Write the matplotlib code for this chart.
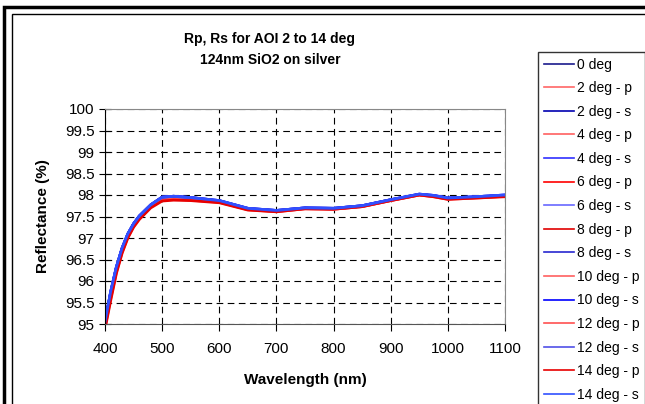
import matplotlib.pyplot as plt
from matplotlib.patches import Rectangle

plt.rcParams["font.family"] = ["Liberation Sans", "DejaVu Sans"]

# wavelength (nm) and reflectance (%)
wl = [400, 410, 420, 430, 440, 450, 460, 480, 500, 520, 550, 600, 650,
      700, 750, 800, 850, 900, 950, 975, 1000, 1050, 1100]

r_0 = [95.02, 95.72, 96.30, 96.75, 97.08, 97.32, 97.50, 97.76, 97.94, 97.96, 97.93, 97.86,
       97.68, 97.63, 97.69, 97.68, 97.74, 97.88, 98.01, 97.98, 97.92, 97.95, 97.99]
r_2p = [95.01, 95.71, 96.30, 96.75, 97.08, 97.32, 97.50, 97.76, 97.94, 97.96, 97.93, 97.86,
        97.68, 97.63, 97.69, 97.68, 97.74, 97.88, 98.01, 97.98, 97.92, 97.95, 97.99]
r_2s = [95.02, 95.72, 96.30, 96.75, 97.08, 97.32, 97.50, 97.76, 97.94, 97.96, 97.93, 97.86,
        97.68, 97.63, 97.69, 97.68, 97.74, 97.88, 98.01, 97.98, 97.92, 97.95, 97.99]
r_4p = [95.00, 95.70, 96.29, 96.74, 97.07, 97.31, 97.49, 97.75, 97.93, 97.95, 97.92, 97.86,
        97.68, 97.63, 97.69, 97.68, 97.74, 97.88, 98.01, 97.98, 97.92, 97.95, 97.99]
r_4s = [95.02, 95.73, 96.31, 96.75, 97.08, 97.32, 97.50, 97.76, 97.94, 97.96, 97.93, 97.86,
        97.68, 97.63, 97.69, 97.68, 97.74, 97.88, 98.01, 97.98, 97.92, 97.95, 97.99]
r_6p = [94.99, 95.69, 96.28, 96.73, 97.07, 97.31, 97.49, 97.75, 97.93, 97.95, 97.92, 97.85,
        97.67, 97.63, 97.69, 97.68, 97.74, 97.88, 98.01, 97.98, 97.92, 97.95, 97.98]
r_6s = [95.03, 95.73, 96.31, 96.76, 97.09, 97.32, 97.50, 97.76, 97.94, 97.96, 97.93, 97.86,
        97.68, 97.63, 97.69, 97.68, 97.74, 97.88, 98.01, 97.98, 97.92, 97.95, 97.99]
r_8p = [94.97, 95.66, 96.26, 96.72, 97.05, 97.30, 97.48, 97.74, 97.91, 97.93, 97.91, 97.85,
        97.67, 97.62, 97.69, 97.68, 97.74, 97.88, 98.01, 97.97, 97.91, 97.94, 97.98]
r_8s = [95.03, 95.74, 96.32, 96.76, 97.09, 97.33, 97.51, 97.77, 97.95, 97.97, 97.94, 97.86,
        97.68, 97.64, 97.70, 97.69, 97.75, 97.89, 98.01, 97.98, 97.92, 97.95, 97.99]
r_10p = [94.95, 95.63, 96.24, 96.70, 97.04, 97.28, 97.46, 97.73, 97.90, 97.92, 97.90, 97.84,
         97.66, 97.62, 97.68, 97.67, 97.73, 97.87, 98.00, 97.97, 97.91, 97.94, 97.97]
r_10s = [95.04, 95.74, 96.32, 96.76, 97.09, 97.33, 97.51, 97.77, 97.95, 97.97, 97.94, 97.87,
         97.69, 97.64, 97.70, 97.69, 97.75, 97.89, 98.02, 97.99, 97.93, 97.96, 98.00]
r_12p = [94.92, 95.59, 96.21, 96.67, 97.02, 97.27, 97.45, 97.72, 97.88, 97.90, 97.88, 97.83,
         97.66, 97.61, 97.68, 97.67, 97.73, 97.87, 98.00, 97.96, 97.90, 97.93, 97.97]
r_12s = [95.04, 95.75, 96.33, 96.77, 97.10, 97.33, 97.51, 97.77, 97.95, 97.97, 97.94, 97.87,
         97.69, 97.64, 97.70, 97.69, 97.75, 97.89, 98.02, 97.99, 97.93, 97.96, 98.00]
r_14p = [94.88, 95.55, 96.18, 96.65, 97.00, 97.25, 97.43, 97.70, 97.86, 97.88, 97.87, 97.82,
         97.65, 97.61, 97.68, 97.67, 97.73, 97.87, 98.00, 97.96, 97.90, 97.93, 97.96]
r_14s = [95.05, 95.76, 96.33, 96.77, 97.10, 97.33, 97.51, 97.77, 97.95, 97.97, 97.94, 97.87,
         97.69, 97.64, 97.70, 97.69, 97.75, 97.89, 98.02, 97.99, 97.93, 97.96, 98.00]

series = [
    ("0 deg", r_0, "#1a1a8c"),
    ("2 deg - p", r_2p, "#ff6666"),
    ("2 deg - s", r_2s, "#0000b0"),
    ("4 deg - p", r_4p, "#ff6060"),
    ("4 deg - s", r_4s, "#3030ff"),
    ("6 deg - p", r_6p, "#ff0000"),
    ("6 deg - s", r_6s, "#6868ff"),
    ("8 deg - p", r_8p, "#e00000"),
    ("8 deg - s", r_8s, "#2828d0"),
    ("10 deg - p", r_10p, "#ff6060"),
    ("10 deg - s", r_10s, "#0000ff"),
    ("12 deg - p", r_12p, "#ff5050"),
    ("12 deg - s", r_12s, "#5050e8"),
    ("14 deg - p", r_14p, "#e80000"),
    ("14 deg - s", r_14s, "#3050ff"),
]

fig = plt.figure(figsize=(6.45, 4.04), dpi=100)
W, H = 645, 404

# outer frames (chart continues past the crop)
fig.add_artist(Rectangle((4 / W, -0.5), 1.5, 1.5 - 7 / H, transform=fig.transFigure,
                         fill=False, lw=2.5, ec="black"))
fig.add_artist(Rectangle((12 / W, -0.5), 1.5, 1.5 - 14 / H, transform=fig.transFigure,
                         fill=False, lw=1, ec="black"))

ax = fig.add_axes([105 / W, 1 - 324 / H, 400 / W, 215 / H])

for label, vals, color in series:
    ax.plot(wl, vals, color=color, lw=2, label=label)

ax.set_xlim(400, 1100)
ax.set_ylim(95, 100)
ax.set_xticks(range(400, 1101, 100))
ax.set_yticks([95 + 0.5 * i for i in range(11)])
ax.set_yticklabels(["%g" % (95 + 0.5 * i) for i in range(11)])
ax.tick_params(axis="y", direction="inout", length=9, labelsize=11, pad=3)
ax.tick_params(axis="x", direction="out", length=5, labelsize=11, pad=8)

ax.grid(True, color="black", linestyle=(0, (6, 4)), linewidth=0.8)
ax.spines["left"].set_color("black")
ax.spines["bottom"].set_color("#555555")
ax.spines["top"].set_color("#888888")
ax.spines["right"].set_color("#888888")

ax.set_xlabel("Wavelength (nm)", fontsize=11, fontweight="bold", labelpad=12)
ax.set_ylabel("Reflectance (%)", fontsize=11, fontweight="bold", labelpad=11)

fig.text(270 / W, 1 - 39 / H, "Rp, Rs for AOI 2 to 14 deg", ha="center", va="center",
         fontsize=10, fontweight="bold")
fig.text(270 / W, 1 - 60 / H, "124nm SiO2 on silver", ha="center", va="center",
         fontsize=10, fontweight="bold")

leg = fig.legend(loc="upper left", bbox_to_anchor=(538 / W, 1 - 52 / H),
                 bbox_transform=fig.transFigure, fontsize=10, frameon=True,
                 fancybox=False, borderaxespad=0, borderpad=0.4, labelspacing=0.69,
                 handlelength=2.2, handletextpad=0.2)
leg.get_frame().set_edgecolor("black")
leg.get_frame().set_linewidth(1)
for line in leg.get_lines():
    line.set_linewidth(1.2)

fig.savefig("out.png", dpi=100)
